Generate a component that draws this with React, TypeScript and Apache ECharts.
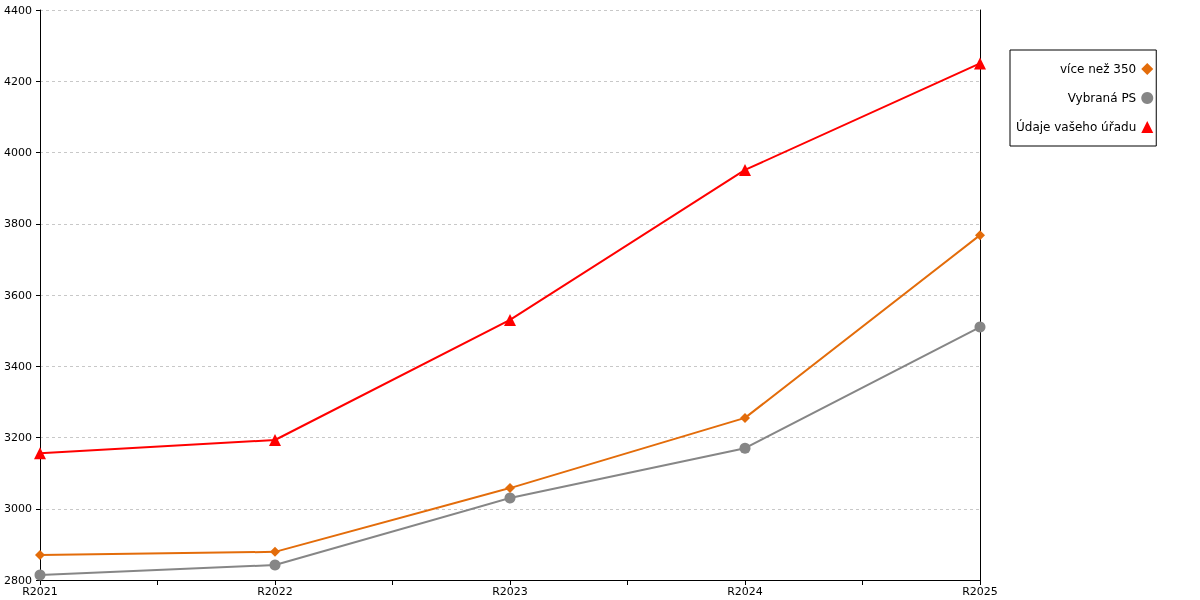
import React, { useEffect, useRef } from "react";
import * as echarts from "echarts";

const categories = ["R2021", "R2022", "R2023", "R2024", "R2025"];
const seriesNames = ["více než 350", "Vybraná PS", "Údaje vašeho úřadu"];
const vice350 = [2870, 2879, 3058, 3255, 3768];
const vybranaPS = [2814, 2842, 3030, 3170, 3510];
const udajeUradu = [3156, 3193, 3530, 3951, 4250];
const colors = ["#e36c0a", "#868686", "#ff0000"];
const symbols = ["diamond", "circle", "triangle"];
const symbolSizes = [10, 11, 12];

export default function App() {
  const ref = useRef<HTMLDivElement>(null);
  useEffect(() => {
    if (!ref.current) return;
    const chart = echarts.init(ref.current, undefined, { renderer: "svg" });
    const values = [vice350, vybranaPS, udajeUradu];
    const font = "DejaVu Sans";
    chart.setOption({
      animation: false,
      textStyle: { fontFamily: font },
      grid: { left: 40, top: 10, right: 220, bottom: 20, containLabel: false },
      legend: {
        orient: "vertical",
        left: 1010,
        top: 50,
        align: "right",
        borderColor: "#000",
        borderWidth: 1,
        borderRadius: 0,
        padding: [13, 3, 13, 6],
        itemGap: 17,
        itemWidth: 12,
        itemHeight: 12,
        textStyle: { fontFamily: font, fontSize: 12, color: "#000" },
        data: seriesNames.map((n, i) => ({ name: n, icon: symbols[i] })),
      },
      xAxis: {
        type: "value",
        min: 0,
        max: categories.length - 1,
        interval: 0.5,
        axisLine: { show: true, lineStyle: { color: "#000", width: 1 } },
        axisTick: { show: true, length: 5, lineStyle: { color: "#000" } },
        splitLine: { show: false },
        axisLabel: {
          color: "#000",
          fontFamily: font,
          fontSize: 11,
          margin: 6,
          showMinLabel: true,
          showMaxLabel: true,
          formatter: (v: number) =>
            Number.isInteger(v) ? categories[v] ?? "" : "",
        },
      },
      yAxis: [
        {
          type: "value",
          min: 2800,
          max: 4400,
          interval: 200,
          axisLine: { show: true, lineStyle: { color: "#000", width: 1 } },
          axisTick: { show: true, length: 4, lineStyle: { color: "#000" } },
          splitLine: {
            show: true,
            lineStyle: { color: "#c8c8c8", type: [3, 3], width: 1 },
          },
          axisLabel: {
            color: "#000",
            fontFamily: font,
            fontSize: 11,
            margin: 8,
            formatter: (v: number) => String(v),
          },
        },
        {
          type: "value",
          position: "right",
          min: 2800,
          max: 4400,
          interval: 200,
          axisLine: { show: true, lineStyle: { color: "#000", width: 1 } },
          axisTick: { show: false },
          axisLabel: { show: false },
          splitLine: { show: false },
        },
      ],
      series: values.map((vals, i) => ({
        name: seriesNames[i],
        type: "line",
        yAxisIndex: 0,
        data: vals.map((v, k) => [k, v]),
        symbol: symbols[i],
        symbolSize: symbolSizes[i],
        itemStyle: { color: colors[i] },
        lineStyle: { color: colors[i], width: 2 },
        z: 3 + (2 - i),
      })),
    });
    return () => chart.dispose();
  }, []);
  return (
    <div
      ref={ref}
      style={{ position: "fixed", left: 0, top: 0, width: 1200, height: 600 }}
    />
  );
}
